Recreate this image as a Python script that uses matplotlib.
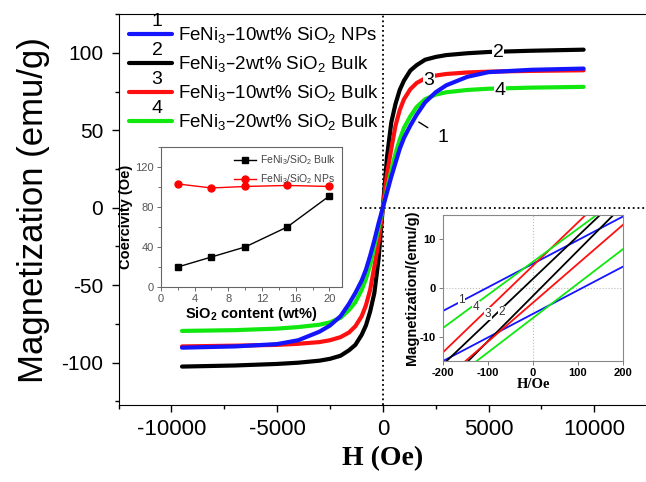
import numpy as np
import matplotlib
matplotlib.use("Agg")
import matplotlib.pyplot as plt
from matplotlib.ticker import MultipleLocator

plt.rcParams['font.family'] = ['Liberation Sans', 'DejaVu Sans']
plt.rcParams['mathtext.default'] = 'regular'
plt.rcParams['axes.unicode_minus'] = False

# ---- main hysteresis loops ----
H = [-9500, -7000, -5000, -4000, -3000, -2500, -2000, -1600, -1300, -1000, -800, -600, -400, -200,
     0, 200, 400, 600, 800, 1000, 1300, 1600, 2000, 2500, 3000, 4000, 5000, 7000, 9500]

M_np10 = [-90.3, -89.5, -88, -85.5, -80, -76, -70, -62, -55, -47, -40, -31, -21, -10,
          0, 10, 20, 29, 38, 45, 53, 60, 68, 74.5, 79, 84.5, 87.5, 89, 89.8]
M_bulk2 = [-102.5, -101.8, -100.8, -100, -98.7, -97.5, -95.5, -92, -88.5, -82, -76, -67, -55, -33,
           0, 33, 55, 67, 76, 82, 88.5, 92, 95.5, 97.3, 98.5, 99.7, 100.5, 101.3, 102]
M_bulk10 = [-89.5, -89, -88.5, -87.8, -86.7, -85.5, -83.5, -80.5, -76.5, -70, -63, -53, -38, -22,
            0, 22, 38, 53, 63, 70, 76.5, 80.5, 83.5, 85.3, 86.3, 87.3, 87.8, 88.3, 88.7]
M_bulk20 = [-79.5, -79, -78, -77, -75.5, -74, -71, -66, -61, -53, -46, -37, -25, -13,
            0, 12, 24, 35, 44, 51.5, 59, 65, 70, 73, 74.5, 76, 76.8, 77.5, 78]

labels = ['FeNi$_3$\u201310wt% SiO$_2$ NPs',
          'FeNi$_3$\u20132wt% SiO$_2$ Bulk',
          'FeNi$_3$\u201310wt% SiO$_2$ Bulk',
          'FeNi$_3$\u201320wt% SiO$_2$ Bulk']
numbers = ['1', '2', '3', '4']
colors = ['#1414ff', 'black', '#ff1010', '#10e810']

# ---- coercivity inset ----
sio2 = [2, 6, 10, 15, 20]
hc_bulk = [20, 30, 40, 60, 91]
hc_np = [103, 99, 100.5, 101.5, 100.5]

# ---- low-field inset: two branches per sample, ends at H = -200 / 200 ----
H_low = [-200, 200]
low_up = {'1': [-4.7, 14.7], '2': [-15.7, 19.5], '3': [-13.2, 22.4], '4': [-8.2, 19.0]}
low_dn = {'1': [-15.0, 4.4], '2': [-20.2, 17.0], '3': [-19.0, 13.0], '4': [-20.3, 8.0]}

fig = plt.figure(figsize=(6.46, 4.82), dpi=100)
ax = fig.add_axes([0.1836, 0.1591, 0.818, 0.8118])

series = [M_np10, M_bulk2, M_bulk10, M_bulk20]
zord = [5, 2, 3, 4]
for m, c, lab, z in zip(series, colors, labels, zord):
    ax.plot(H, m, color=c, lw=3, label=lab, zorder=z, solid_capstyle='round')

ax.set_xlim(-12500, 12500)
ax.set_ylim(-127.5, 125)
ax.axvline(0, color='black', ls=':', lw=1.3, zorder=1)
ax.plot([-1100, 12500], [0, 0], color='black', ls=':', lw=1.3, zorder=1)

ax.xaxis.set_major_locator(MultipleLocator(5000))
ax.xaxis.set_minor_locator(MultipleLocator(2500))
ax.yaxis.set_major_locator(MultipleLocator(50))
ax.yaxis.set_minor_locator(MultipleLocator(25))
ax.tick_params(which='major', direction='out', length=5, width=1)
ax.tick_params(which='minor', direction='out', length=3, width=1)
ax.tick_params(axis='x', labelsize=16, pad=5)
ax.tick_params(axis='y', labelsize=15, pad=6)
ax.spines['right'].set_visible(False)
ax.set_xlabel('H (Oe)', family='Liberation Serif', fontweight='bold', fontsize=20, labelpad=4)
ax.set_ylabel('Magnetization (emu/g)', fontsize=25, labelpad=8)

# curve numbers
ax.text(5457, 100.3, '2', fontsize=14, ha='center', va='center', zorder=6,
        bbox=dict(facecolor='white', edgecolor='none', pad=0.5))
ax.text(2190, 82.3, '3', fontsize=14, ha='center', va='center', zorder=6,
        bbox=dict(facecolor='white', edgecolor='none', pad=0.5))
ax.text(5550, 75.8, '4', fontsize=14, ha='center', va='center', zorder=6,
        bbox=dict(facecolor='white', edgecolor='none', pad=0.5))
ax.annotate('1', xy=(1700, 55.3), xytext=(2850, 45.5), fontsize=14, ha='center', va='center',
            arrowprops=dict(arrowstyle='-', color='black', lw=1, shrinkA=6, shrinkB=0), zorder=6)

leg = ax.legend(loc='upper left', bbox_to_anchor=(-0.005, 1.005), frameon=False, fontsize=13.5,
                handlelength=2.3, handletextpad=0.3, labelspacing=0.48, borderaxespad=0.3)
for ln in leg.get_lines():
    ln.set_linewidth(3)

# ---- inset 1: coercivity ----
ax1 = fig.add_axes([0.2492, 0.4046, 0.2802, 0.2905])
ax1.plot(sio2, hc_bulk, '-s', color='black', ms=5, lw=1, label='FeNi$_3$/SiO$_2$ Bulk')
ax1.plot(sio2, hc_np, '-o', color='red', ms=5, lw=1, label='FeNi$_3$/SiO$_2$ NPs')
ax1.set_xlim(0, 21.5)
ax1.set_ylim(0, 140)
ax1.xaxis.set_major_locator(MultipleLocator(4))
ax1.xaxis.set_minor_locator(MultipleLocator(2))
ax1.yaxis.set_major_locator(MultipleLocator(40))
ax1.yaxis.set_minor_locator(MultipleLocator(20))
ax1.tick_params(which='major', length=3, width=0.6, labelsize=8, labelcolor='#555555', pad=2, color='#555555')
ax1.tick_params(which='minor', length=2, width=0.6, color='#555555')
for s in ax1.spines.values():
    s.set_color('#666666')
    s.set_linewidth(0.8)
ax1.set_xlabel('SiO$_2$ content (wt%)', fontsize=10.5, fontweight='bold', labelpad=1)
ax1.set_ylabel('Coercivity (Oe)', fontsize=10.5, fontweight='bold', labelpad=2)
ax1.legend(loc='upper right', frameon=False, fontsize=7.5, handlelength=2.2, handletextpad=0.3,
           labelspacing=0.5, borderaxespad=0.2, labelcolor='#444444')

# ---- inset 2: low-field loops ----
ax2 = fig.add_axes([0.6858, 0.2510, 0.2786, 0.3029])
for n, c in zip(numbers, colors):
    ax2.plot(H_low, low_up[n], color=c, lw=1.3)
    ax2.plot(H_low, low_dn[n], color=c, lw=1.3)
ax2.set_xlim(-200, 200)
ax2.set_ylim(-15, 15)
ax2.axvline(0, color='#bbbbbb', ls=':', lw=0.8, zorder=0)
ax2.axhline(0, color='#bbbbbb', ls=':', lw=0.8, zorder=0)
ax2.set_xticks([-200, -100, 0, 100, 200])
ax2.set_yticks([-10, 0, 10])
ax2.tick_params(length=3, width=0.6, labelsize=8, pad=2, color='#666666')
for lbl in ax2.get_xticklabels() + ax2.get_yticklabels():
    lbl.set_fontweight('bold')
for s in ax2.spines.values():
    s.set_color('#888888')
    s.set_linewidth(0.8)
ax2.set_xlabel('H/Oe', family='Liberation Serif', fontweight='bold', fontsize=10.5, labelpad=0)
ax2.set_ylabel('Magnetization/(emu/g)', fontweight='bold', fontsize=10.5, labelpad=1)
for n, x, y in zip(numbers, [-159, -70, -100, -127], [-2.4, -5, -5.3, -4]):
    ax2.text(x, y, n, fontsize=8.5, color='#333333', ha='center', va='center',
             bbox=dict(facecolor='white', edgecolor='none', pad=0.3))

# numbers above the legend handles
fig.canvas.draw()
inv = ax.transAxes.inverted()
for ln, n in zip(leg.get_lines(), numbers):
    bb = ln.get_window_extent(fig.canvas.get_renderer())
    cx, cy = inv.transform(((bb.x0 + bb.x1) / 2, (bb.y0 + bb.y1) / 2))
    ax.text(cx + 0.012, cy + 0.032, n, transform=ax.transAxes, fontsize=14,
            ha='center', va='center')

fig.savefig('out.png', dpi=100)
